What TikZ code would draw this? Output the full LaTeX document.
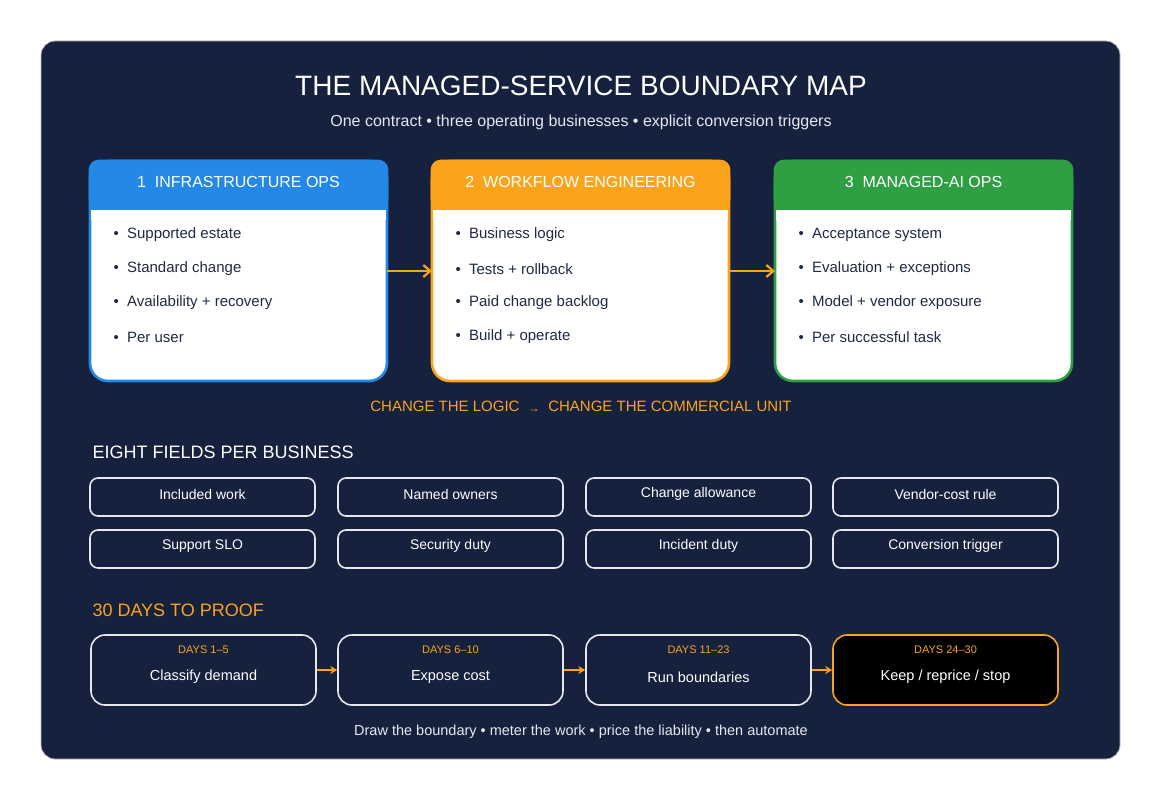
\documentclass[tikz,border=0pt]{standalone}
\usepackage{fontspec}
\setmainfont{Liberation Sans}
\usetikzlibrary{arrows.meta}
\definecolor{bg}{HTML}{16213D}
\definecolor{cblue}{HTML}{2388E6}
\definecolor{corange}{HTML}{FBA31A}
\definecolor{cgreen}{HTML}{2EA043}
\definecolor{ink}{HTML}{1F2A44}
\definecolor{soft}{HTML}{E6E8EE}
\begin{document}
\begin{tikzpicture}[x=1pt,y=-1pt,
  item/.style={anchor=west,text=ink,font=\fontsize{15}{18}\selectfont},
  field/.style={draw=soft,line width=1.6pt,rounded corners=8pt,minimum width=225pt,minimum height=38pt,inner sep=0pt},
  ftext/.style={text=white,font=\fontsize{14}{16}\selectfont},
  phase/.style={draw=soft,line width=1.6pt,rounded corners=14pt,minimum width=225pt,minimum height=70pt,inner sep=0pt},
  days/.style={text=corange,font=\fontsize{11}{13}\selectfont},
  stext/.style={text=white,font=\fontsize{14.5}{17}\selectfont},
  big/.style={-{Straight Barb[length=7pt,width=12pt]},corange,line width=2.2pt},
  small/.style={-{Stealth[length=7pt,width=8pt]},corange,line width=2.2pt}]
\useasboundingbox (0,0) rectangle (1161,800);
\fill[white] (0,0) rectangle (1161,800);
\draw[draw=black!25,fill=bg,rounded corners=14pt,line width=0.8pt] (41,41) rectangle (1120,759);
\node[text=white,font=\fontsize{28}{32}\selectfont] (title) at (581,86) {THE MANAGED-SERVICE BOUNDARY MAP};
\node[text=soft,font=\fontsize{16}{19}\selectfont] (sub) at (581,122) {One contract • three operating businesses • explicit conversion triggers};
% cards
\foreach \n/\x/\c/\t in {c1/90/cblue/{1\ \ INFRASTRUCTURE OPS},c2/432/corange/{2\ \ WORKFLOW ENGINEERING},c3/775/cgreen/{3\ \ MANAGED-AI OPS}}{
  \draw[draw=\c,fill=white,line width=2.6pt,rounded corners=18pt] (\x,161) rectangle ++(297,220);
  \fill[\c,rounded corners=10pt] (\x-1.3,159.7) rectangle ++(299.6,50);
  \fill[\c] (\x-1.3,190) rectangle ++(299.6,20);
  \fill[white] (\x+1.3,210) rectangle ++(294.4,10);
  \node[text=white,font=\fontsize{16}{19}\selectfont] (\n h) at (\x+148.5,182) {\t};
  \coordinate (\n w) at (\x,271); \coordinate (\n e) at (\x+297,271);
}
\foreach \n/\x/\a/\b/\c/\d in {
 c1/90/Supported estate/Standard change/Availability + recovery/Per user / device / workload,
 c2/432/Business logic/Tests + rollback/Paid change backlog/Build + operate,
 c3/775/Acceptance system/Evaluation + exceptions/Model + vendor exposure/Per successful task}{
  \node[item] (\n a) at (\x+20,235) {•\ \ \a};
  \node[item] (\n b) at (\x+20,269) {•\ \ \b};
  \node[item] (\n c) at (\x+20,303) {•\ \ \c};
  \node[item] (\n d) at (\x+20,337) {•\ \ \d};
}
\draw[big] (c1e) -- (c2w);
\draw[big] (c2e) -- (c3w);
\node[text=corange,font=\fontsize{15}{18}\selectfont] (logic) at (581,407) {CHANGE THE LOGIC \ \raisebox{-1pt}{\fontsize{12}{12}\selectfont→}\ \ CHANGE THE COMMERCIAL UNIT};
\node[anchor=west,text=white,font=\fontsize{18}{21}\selectfont] (eight) at (89,452) {EIGHT FIELDS PER BUSINESS};
\foreach \n/\x/\y/\t in {f1/202.5/497/Included work,f2/450.5/497/Named owners,f3/698.5/497/Change allowance,f4/945.5/497/Vendor-cost rule,
 f5/202.5/549/Support SLO,f6/450.5/549/Security duty,f7/698.5/549/Incident duty,f8/945.5/549/Conversion trigger}{
  \node[field] (\n) at (\x,\y) {};
  \node[ftext] (\n t) at (\x,\y-3) {\t};
}
\node[anchor=west,text=corange,font=\fontsize{18}{21}\selectfont] (thirty) at (89,610) {30 DAYS TO PROOF};
\foreach \n/\x/\d/\t in {s1/203.5/DAYS 1–5/Classify demand,s2/450.5/DAYS 6–10/Expose cost,s3/698.5/DAYS 11–23/Run boundaries}{
  \node[phase] (\n) at (\x,670) {};
  \node[days] (\n d) at (\x,650) {\d};
  \node[stext] (\n t) at (\x,677) {\t};
}
\node[phase,draw=corange,fill=black] (s4) at (945.5,670) {};
\node[days] (s4d) at (945.5,650) {DAYS 24–30};
\node[stext] (s4t) at (945.5,677) {Keep / reprice / stop};
\draw[small] (s1.east) -- (s2.west);
\draw[small] (s2.east) -- (s3.west);
\draw[small] (s3.east) -- (s4.west);
\node[text=soft,font=\fontsize{14.5}{17}\selectfont] (foot) at (581,732) {Draw the boundary • meter the work • price the liability • then automate};
\end{tikzpicture}
\end{document}
